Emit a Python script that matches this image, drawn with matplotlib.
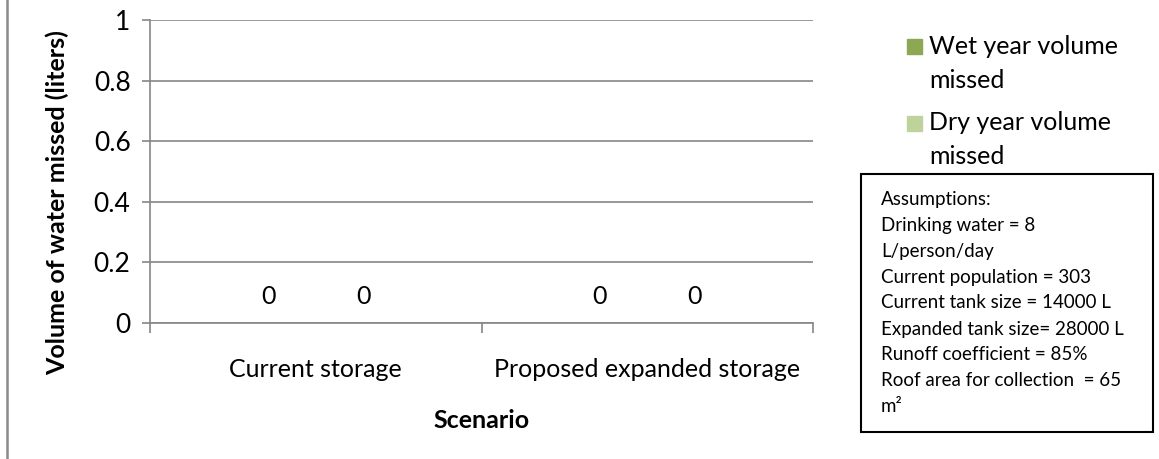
import matplotlib
matplotlib.use("Agg")
import matplotlib.pyplot as plt
from matplotlib.patches import Rectangle
from matplotlib.lines import Line2D

plt.rcParams['font.family'] = ['Lato', 'DejaVu Sans']

# data
scenarios = ["Current storage", "Proposed expanded storage"]
wet_missed = [0, 0]
dry_missed = [0, 0]
series_names = ["Wet year volume\nmissed", "Dry year volume\nmissed"]
y_ticks = [0, 0.2, 0.4, 0.6, 0.8, 1]
assumptions = [
    "Assumptions:",
    "Drinking water = 8",
    "L/person/day",
    "Current population = 303",
    "Current tank size = 14000 L",
    "Expanded tank size= 28000 L",
    "Runoff coefficient = 85%",
    "Roof area for collection  = 65",
    "m\u00b2",
]

W, H = 1159, 459
fig = plt.figure(figsize=(W / 100, H / 100), dpi=100)
ax = fig.add_axes([150 / W, (H - 323) / H, (813 - 150) / W, (323 - 20) / H])

grey = "#868686"
colors = ["#8DA852", "#BFD29C"]
bw = 0.286
x = list(range(len(scenarios)))

for k, vals in enumerate((wet_missed, dry_missed)):
    dx = (k - 0.5) * bw
    ax.bar([i + dx for i in x], vals, width=bw, color=colors[k])
    for i, v in zip(x, vals):
        ax.annotate(f"{v:g}", xy=(i + dx, v), xytext=(0, 19), textcoords="offset points",
                    ha="center", va="center", fontsize=18, color="black")

ax.set_xlim(-0.5, len(scenarios) - 0.5)
ax.set_ylim(0, 1)
ax.set_yticks(y_ticks)
ax.set_yticklabels([f"{t:g}" for t in y_ticks], fontsize=19)
ax.yaxis.grid(True, color=grey, linewidth=1.2)
ax.set_axisbelow(True)

ax.set_xticks(x)
ax.set_xticklabels(scenarios, fontsize=18)
ax.set_xticks([i - 0.5 for i in range(len(scenarios) + 1)], minor=True)
ax.tick_params(axis="x", which="major", length=0, pad=25)
ax.tick_params(axis="x", which="minor", length=7, width=1.2, color=grey, direction="out")
ax.tick_params(axis="y", length=6, width=1.2, color=grey, direction="out", pad=8)

for s in ("top", "right"):
    ax.spines[s].set_visible(False)
for s in ("left", "bottom"):
    ax.spines[s].set_color(grey)
    ax.spines[s].set_linewidth(1.2)

fig.text(57 / W, 1 - 203 / H, "Volume of water missed (liters)", rotation=90,
         ha="center", va="center", fontsize=18, fontweight="bold")
fig.text(482 / W, 1 - 420 / H, "Scenario", ha="center", va="center",
         fontsize=18, fontweight="bold")

# legend, drawn by hand so the swatch sits at the first line like Excel
for k, name in enumerate(series_names):
    top = 46 + 77 * k
    fig.add_artist(Rectangle((907 / W, 1 - (top + 7.5) / H), 15 / W, 15 / H,
                             transform=fig.transFigure, color=colors[k]))
    for j, part in enumerate(name.split("\n")):
        fig.text(929 / W, 1 - (top + 34 * j) / H, part, ha="left", va="center", fontsize=18)

# assumptions box
fig.add_artist(Rectangle((861 / W, 1 - 432 / H), (1153 - 861) / W, (432 - 174) / H,
                         transform=fig.transFigure, fill=False, edgecolor="black", linewidth=1.5))
for k, line in enumerate(assumptions):
    fig.text(881 / W, 1 - (199 + 26 * k) / H, line, ha="left", va="center", fontsize=13.5)

# chart border at the left
fig.add_artist(Line2D([7 / W, 7 / W], [0, 1], transform=fig.transFigure,
                      color="#8a8a8a", linewidth=1.8))

fig.savefig("out.png", dpi=100, facecolor="white")
